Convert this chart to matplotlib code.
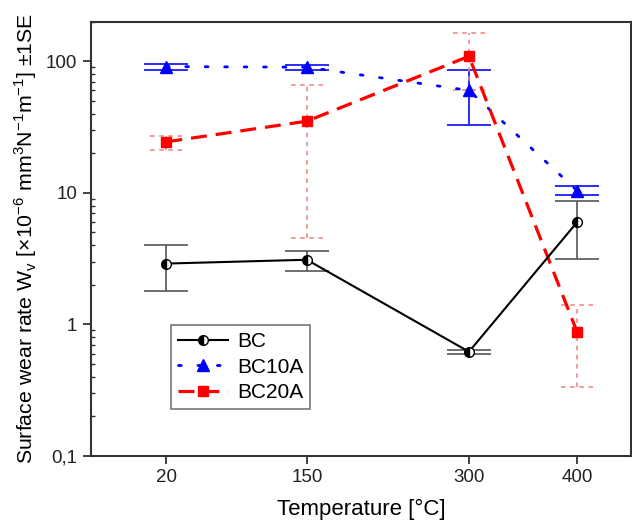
import numpy as np
import matplotlib
matplotlib.use("Agg")
import matplotlib.pyplot as plt
from matplotlib.ticker import LogLocator, NullFormatter

plt.rcParams["font.family"] = ["Liberation Sans", "DejaVu Sans"]

temps = [20, 150, 300, 400]

bc = [2.9, 3.1, 0.62, 5.97]
bc_lo = [1.78, 2.53, 0.60, 3.16]
bc_hi = [4.04, 3.64, 0.64, 8.68]

bc10a = [91, 90, 60, 10.4]
bc10a_lo = [86, 85, 33, 9.7]
bc10a_hi = [95, 94, 86, 11.2]

bc20a = [24.4, 35, 109, 0.88]
bc20a_lo = [21.2, 4.57, 60, 0.333]
bc20a_hi = [27.2, 65.6, 163, 1.40]


def yerr(v, lo, hi):
    v = np.array(v)
    return [v - np.array(lo), np.array(hi) - v]


fig = plt.figure(figsize=(6.32, 5.26), dpi=100)
ax = fig.add_axes([0.1435, 0.133, 0.855, 0.826])

# error bars
ax.errorbar(temps, bc, yerr=yerr(bc, bc_lo, bc_hi), fmt="none",
            ecolor="#555555", elinewidth=1.2, capsize=16, capthick=1.2, zorder=2)
ax.errorbar(temps, bc10a, yerr=yerr(bc10a, bc10a_lo, bc10a_hi), fmt="none",
            ecolor="#1a1aff", elinewidth=1.3, capsize=16, capthick=1.3, zorder=2)
# BC20A: dashed bars and dashed caps
ax.vlines(temps, bc20a_lo, bc20a_hi, colors="#f08080", linewidth=1.1,
          linestyles=(0, (3, 3)), zorder=2)
half = 15
t = np.array(temps)
ax.hlines(bc20a_lo, t - half, t + half, colors="#f08080", linewidth=1.1,
          linestyles=(0, (3, 3)), zorder=2)
ax.hlines(bc20a_hi, t - half, t + half, colors="#f08080", linewidth=1.1,
          linestyles=(0, (3, 3)), zorder=2)

ax.plot(temps, bc, color="black", lw=1.5, marker="o", ms=7, fillstyle="left",
        markerfacecolor="black", markerfacecoloralt="white", markeredgecolor="black",
        markeredgewidth=1, label="BC", zorder=4)
ax.plot(temps, bc10a, color="blue", lw=2.0, linestyle=(0, (1, 6)), marker="^", ms=8,
        dash_capstyle="round", label="BC10A", zorder=3)
ax.plot(temps, bc20a, color="red", lw=2.3, linestyle=(0, (5, 2.8)), marker="s", ms=6.5,
        label="BC20A", zorder=3)

ax.set_yscale("log")
ax.set_ylim(0.1, 200)
ax.set_xlim(-50, 450)
ax.set_xticks(temps)
ax.set_yticks([0.1, 1, 10, 100])
ax.set_yticklabels(["0,1", "1", "10", "100"])
ax.yaxis.set_minor_locator(LogLocator(base=10, subs=np.arange(2, 10)))
ax.yaxis.set_minor_formatter(NullFormatter())
ax.tick_params(axis="both", which="major", direction="out", length=6, width=1.2,
               labelsize=13.5, colors="#222222")
ax.tick_params(axis="y", which="minor", direction="in", length=3, width=1.0,
               colors="#333333")

for s in ax.spines.values():
    s.set_linewidth(1.5)
    s.set_color("#333333")

ax.set_xlabel("Temperature [°C]", fontsize=16, labelpad=9)
ax.set_ylabel(r"Surface wear rate W$_\mathregular{v}$ [×10$^\mathregular{-6}$ mm$^\mathregular{3}$N$^\mathregular{-1}$m$^\mathregular{-1}$] ±1SE",
              fontsize=15.3, labelpad=5)

leg = ax.legend(loc="lower left", bbox_to_anchor=(0.149, 0.108), borderaxespad=0,
                fontsize=15, frameon=True, fancybox=False, edgecolor="#555555",
                handlelength=2.4, labelspacing=0.3, borderpad=0.35, handletextpad=0.4)
leg.get_frame().set_linewidth(1.2)

fig.savefig("out.png", dpi=100)
